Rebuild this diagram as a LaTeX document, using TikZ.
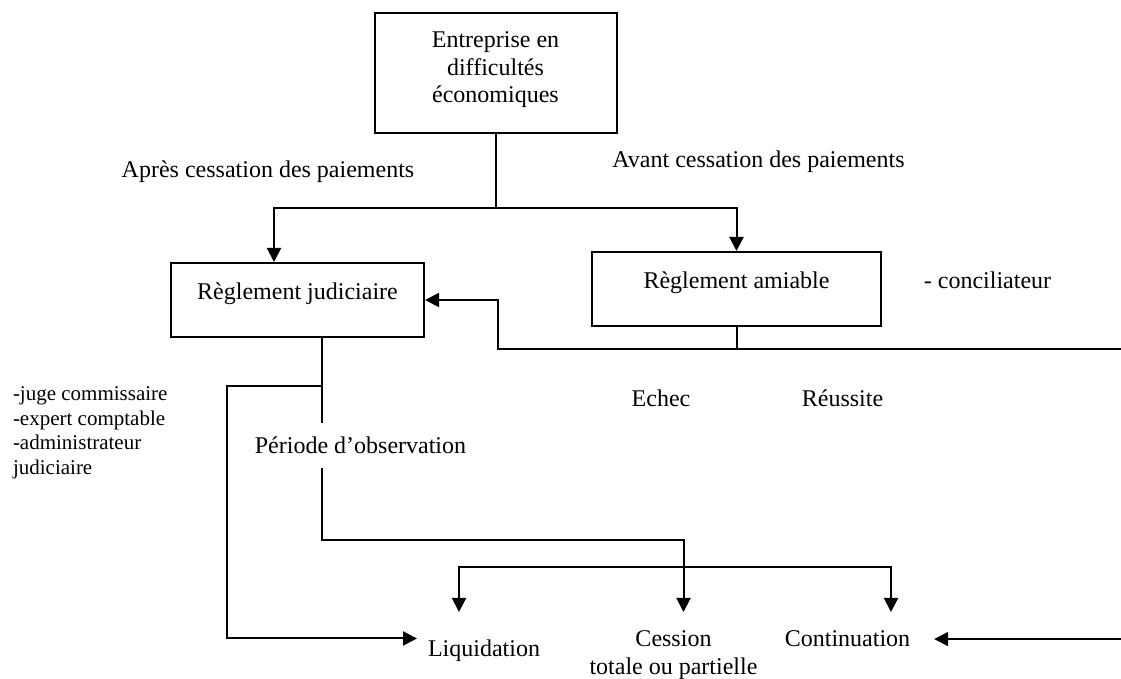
\documentclass[tikz,border=0pt]{standalone}
\usepackage{fontspec}
\setmainfont{Liberation Serif}
\usetikzlibrary{arrows.meta}

\begin{document}
\begin{tikzpicture}[x=5pt, y=5pt, line width=1pt,
    every node/.style={font=\fontsize{12}{13.8}\selectfont},
    box/.style={draw, align=center},
    arr/.style={-{Triangle[length=7pt,width=7pt]}},
    arrs/.style={{Triangle[length=7pt,width=7pt]}-{Triangle[length=7pt,width=7pt]}}]
  \tikzstyle{every node}+=[inner sep=0pt]
  \useasboundingbox (0,0) rectangle (112.1,-67.9);
  % boxes
  \node [box, minimum width=121pt, minimum height=60pt] (ent) at (49.55,-7.3) {Entreprise en\\difficultés\\économiques\\[-8pt]\mbox{}};
  \node [box, minimum width=126.5pt, minimum height=37pt, text height=10pt, text depth=10pt] (jud) at (29.75,-30.0) {Règlement judiciaire};
  \node [box, minimum width=144.5pt, minimum height=37pt, text height=10pt, text depth=10pt] (ami) at (73.65,-28.9) {Règlement amiable};
  % labels
  \node (apres) at (26.8,-17.2) {Après cessation des paiements};
  \node (avant) at (75.85,-16.2) {Avant cessation des paiements};
  \node (concil) at (98.75,-28.0) {- conciliateur};
  \node (echec) at (66.1,-39.8) {Echec};
  \node (reuss) at (84.25,-39.8) {Réussite};
  \node [anchor=west, align=left, font=\fontsize{10.5}{12.25}\selectfont] (acteurs) at (1.2,-43.3) {-juge commissaire\\-expert comptable\\-administrateur\\judiciaire};
  \node [inner ysep=6.6pt] (obs) at (36.05,-44.55) {Période d’observation};
  % issues
  \node [anchor=north, inner xsep=5pt, inner ysep=13.3pt] (liq) at (48.4,-61.2) {Liquidation};
  \node [anchor=north, align=center, inner ysep=9pt] (cess) at (67.35,-61.2) {Cession\\totale ou partielle};
  \node [anchor=north, inner xsep=11.5pt, inner ysep=9pt] (cont) at (84.75,-61.2) {Continuation};
  \coordinate (jbr) at (32.2,-38.6);
  \coordinate (echL) at (49.8,-34.9);
  \coordinate (bordE) at (112.1,-34.9);
  \coordinate (bordS) at (112.1,-63.8);
  % connectors
  \draw (ent.south) -- ++(0,-7.4) coordinate (fork);
  \draw [arr] (fork) -| ([xshift=-11.75pt]jud.north);
  \draw [arr] (fork) -| (ami.north);
  \draw (ami.south) -- (ami.south |- echL);
  \draw [arr] (bordE) -- (echL) |- (jud.east);
  \draw (jud.south -| jbr) -- (obs.north -| jbr);
  \draw [arr] (jbr) -- ++(-9.5,0) |- ([yshift=6pt]liq.west);
  \draw [arr] (obs.south -| jbr) -- ++(0,-7.2) -| ([xshift=5pt]cess.north);
  \draw [arrs] ([xshift=-12.5pt]liq.north) -- ++(0,4.5) -| ([xshift=21.75pt]cont.north);
  \draw [arr] (cont.east -| bordS) -- (cont.east);
\end{tikzpicture}
\end{document}
